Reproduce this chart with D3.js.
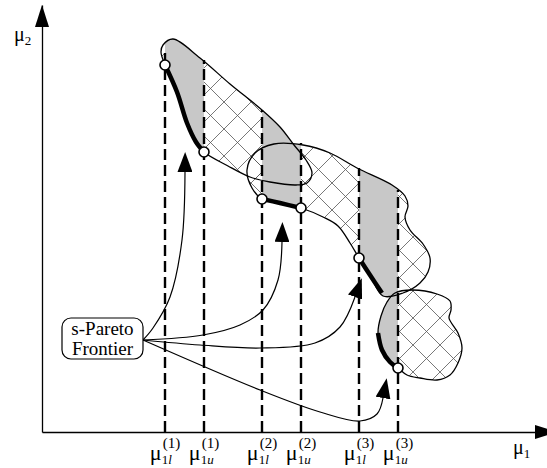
<!DOCTYPE html>
<html>
<head>
<meta charset="utf-8">
<script src="https://cdn.jsdelivr.net/npm/d3@7"></script>
<style>
  body { margin: 0; background: #fff; }
  svg { display: block; }
</style>
</head>
<body>
<div id="chart"></div>
<script>
// mu1 bounds of the three regions [lower, upper]
const intervals = [[123, 162], [220, 259], [317, 356]];
const intervalTags = ['(1)', '(2)', '(3)'];
// mu2 where each dashed line meets the top of the regions [lower, upper]
const dashTops = [[382, 372], [322, 289], [264, 242]];

// outline of the three design regions, as [mu1, mu2]
const blob1 = [[121, 387], [131, 393], [158, 374], [188, 348], [220, 322], [238, 305], [252, 287],
  [264, 272], [270, 259], [265, 249], [254, 247], [228, 250], [208, 255], [186, 266], [162, 280],
  [154, 290], [145, 309], [135, 340], [123, 367], [119, 380]];
const blob2 = [[220, 233], [210, 244], [205, 262], [213, 279], [232, 288], [261, 287], [288, 279],
  [315, 264], [350, 247], [363, 236], [366, 226], [363, 215], [368, 202], [381, 188], [388, 174],
  [386, 160], [378, 149], [361, 139], [341, 136], [328, 157], [317, 174], [308, 189], [296, 206],
  [281, 215], [259, 224], [238, 229]];
const blob3 = [[353, 139], [370, 142], [395, 138], [408, 131], [409, 122], [407, 114], [416, 99],
  [420, 84], [416, 69], [408, 57], [395, 52], [378, 54], [365, 57], [356, 64], [348, 70], [340, 82],
  [336, 99], [339, 116], [345, 130]];

// s-Pareto frontier pieces
const frontier1 = [[123, 367], [135, 340], [145, 309], [154, 290], [162, 280]];
const frontier2 = [[220, 233], [238, 229], [259, 224]];
const frontier3 = [[317, 174], [328, 157], [340, 139]];
const frontier4 = [[336, 99], [340, 82], [348, 70], [356, 64]];
const endPoints = [[123, 367], [162, 280], [220, 233], [259, 224], [317, 174], [356, 64]];

// pointer curves from the label box
const arrow1 = [[101, 92], [111, 104], [128, 135], [140, 192], [143, 260]];
const arrow2 = [[101, 92], [161, 97], [198, 107], [221, 122], [236, 152], [240, 190]];
const arrow3 = [[101, 92], [158, 87], [218, 84], [273, 89], [298, 105], [313, 135]];
const arrow4 = [[101, 92], [218, 42], [278, 20], [318, 11], [335, 18], [341, 34]];

const boxLines = ['s-Pareto', 'Frontier'];

const W = 547, H = 468;
const FONT = '"Liberation Serif", "Times New Roman", Times, serif';

const x = d3.scaleLinear().domain([0, 505]).range([42, 547]);
const y = d3.scaleLinear().domain([0, 427]).range([432, 5]);

const svg = d3.select('#chart').append('svg')
  .attr('width', W)
  .attr('height', H)
  .attr('font-family', FONT);

const defs = svg.append('defs');

// cross hatch
const pat = defs.append('pattern')
  .attr('id', 'hatch')
  .attr('patternUnits', 'userSpaceOnUse')
  .attr('x', 8).attr('y', 21)
  .attr('width', 27).attr('height', 27);
pat.append('path')
  .attr('d', 'M-2,-2L29,29M29,-2L-2,29')
  .attr('stroke', '#555')
  .attr('stroke-width', 0.8)
  .attr('fill', 'none');

defs.append('marker')
  .attr('id', 'head')
  .attr('viewBox', '0 -7.5 20 15')
  .attr('refX', 0).attr('refY', 0)
  .attr('markerWidth', 20).attr('markerHeight', 15)
  .attr('markerUnits', 'userSpaceOnUse')
  .attr('orient', 'auto')
  .append('path')
  .attr('d', 'M0,-7.5L20,0L0,7.5Z')
  .attr('fill', '#000');

// one clip strip per mu1 interval
intervals.forEach((iv, i) => {
  defs.append('clipPath').attr('id', 'strip' + i)
    .append('rect')
    .attr('x', x(iv[0])).attr('y', 0)
    .attr('width', x(iv[1]) - x(iv[0])).attr('height', H);
});

const closed = d3.line().x(d => x(d[0])).y(d => y(d[1])).curve(d3.curveCatmullRomClosed.alpha(0.5));
const open = d3.line().x(d => x(d[0])).y(d => y(d[1])).curve(d3.curveCatmullRom.alpha(0.5));

const blobs = [blob1, blob2, blob3];

// hatched regions
svg.append('g').selectAll('path')
  .data(blobs)
  .join('path')
  .attr('d', closed)
  .attr('fill', 'url(#hatch)');

// grey parts inside each interval
intervals.forEach((iv, i) => {
  svg.append('g')
    .attr('clip-path', `url(#strip${i})`)
    .selectAll('path')
    .data(blobs)
    .join('path')
    .attr('d', closed)
    .attr('fill', '#c8c8c8');
});

// dashed bounds
const bounds = [];
intervals.forEach((iv, i) => {
  bounds.push({ v: iv[0], top: dashTops[i][0], s: 'l', tag: intervalTags[i] });
  bounds.push({ v: iv[1], top: dashTops[i][1], s: 'u', tag: intervalTags[i] });
});

svg.append('g').selectAll('line')
  .data(bounds)
  .join('line')
  .attr('x1', d => x(d.v)).attr('x2', d => x(d.v))
  .attr('y1', y(0)).attr('y2', d => y(d.top))
  .attr('stroke', '#000')
  .attr('stroke-width', 2.4)
  .attr('stroke-dasharray', '11,5');

// region outlines
svg.append('g').selectAll('path')
  .data(blobs)
  .join('path')
  .attr('d', closed)
  .attr('fill', 'none')
  .attr('stroke', '#000')
  .attr('stroke-width', 1.3);

// frontier
svg.append('g').selectAll('path')
  .data([frontier1, frontier2, frontier3, frontier4])
  .join('path')
  .attr('d', open)
  .attr('fill', 'none')
  .attr('stroke', '#000')
  .attr('stroke-width', 4.5)
  .attr('stroke-linecap', 'butt');

svg.append('g').selectAll('circle')
  .data(endPoints)
  .join('circle')
  .attr('cx', d => x(d[0])).attr('cy', d => y(d[1]))
  .attr('r', 5)
  .attr('fill', '#fff')
  .attr('stroke', '#000')
  .attr('stroke-width', 1.6);

// pointers
svg.append('g').selectAll('path')
  .data([arrow1, arrow2, arrow3, arrow4])
  .join('path')
  .attr('d', open)
  .attr('fill', 'none')
  .attr('stroke', '#000')
  .attr('stroke-width', 1.2)
  .attr('marker-end', 'url(#head)');

// label box
const box = svg.append('g');
box.append('rect')
  .attr('x', 62).attr('y', 318)
  .attr('width', 81).attr('height', 41)
  .attr('rx', 9)
  .attr('fill', '#fff')
  .attr('stroke', '#000')
  .attr('stroke-width', 1.2);
box.selectAll('text')
  .data(boxLines)
  .join('text')
  .attr('x', 102.5)
  .attr('y', (d, i) => 335 + i * 20)
  .attr('text-anchor', 'middle')
  .attr('font-size', 19)
  .text(d => d);

// axes
svg.append('g')
  .attr('transform', `translate(0,${y(0)})`)
  .call(d3.axisBottom(x).tickValues([]).tickSizeOuter(0))
  .call(g => g.select('.domain').attr('stroke-width', 1.3));
svg.append('g')
  .attr('transform', `translate(${x(0)},0)`)
  .call(d3.axisLeft(y).tickValues([]).tickSizeOuter(0))
  .call(g => g.select('.domain').attr('stroke-width', 1.3));

svg.append('path')
  .attr('d', `M${x(0) - 7},27L${x(0)},5L${x(0) + 7},27Z`);
svg.append('path')
  .attr('d', `M535,${y(0) - 7}L557,${y(0)}L535,${y(0) + 7}Z`);

// mu with sub/superscript
function mu(g, sub, subItalic, sup, size, subSize, supSize, base, subBase, supBase) {
  const m = g.append('text').attr('x', 0).attr('y', base).attr('font-size', size).text('\u03bc');
  const w = m.node().getComputedTextLength();
  const s = g.append('text').attr('x', w).attr('y', subBase).attr('font-size', subSize);
  s.append('tspan').text(sub);
  if (subItalic) s.append('tspan').attr('font-style', 'italic').text(subItalic);
  const sw = s.node().getComputedTextLength();
  let pw = 0;
  if (sup) {
    const p = g.append('text').attr('x', w + 1).attr('y', supBase).attr('font-size', supSize).text(sup);
    pw = p.node().getComputedTextLength() + 1;
  }
  return w + Math.max(sw, pw);
}

const ticks = svg.append('g').selectAll('g')
  .data(bounds)
  .join('g');
ticks.each(function (d) {
  const g = d3.select(this);
  const wd = mu(g, '1', d.s, d.tag, 22, 13, 15, 460, 464, 448);
  g.attr('transform', `translate(${x(d.v) - wd / 2},0)`);
});

mu(svg.append('g').attr('transform', 'translate(14,0)'), '2', null, null, 20, 13, 0, 41, 45, 0);
mu(svg.append('g').attr('transform', 'translate(513,0)'), '1', null, null, 20, 13, 0, 454, 458, 0);
</script>
</body>
</html>
